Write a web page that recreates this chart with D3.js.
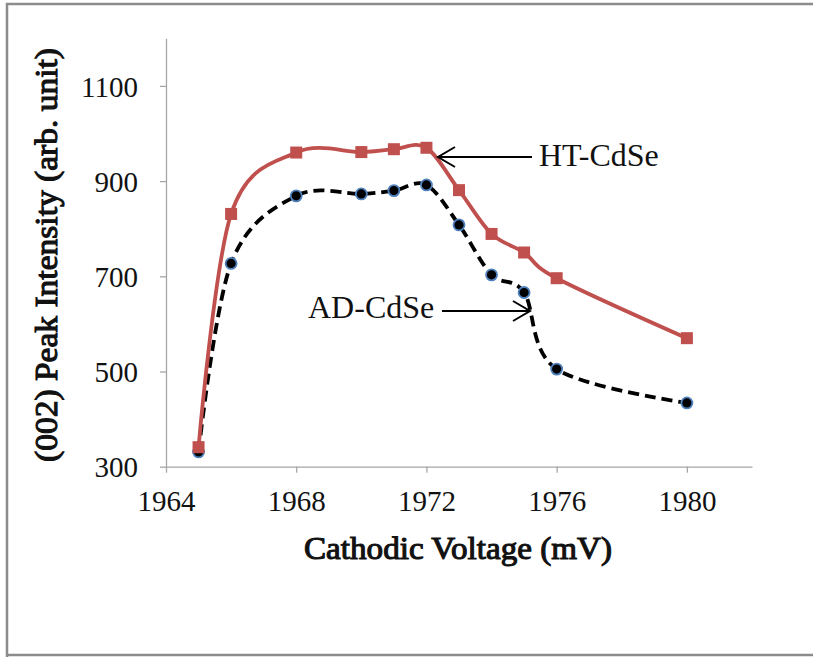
<!DOCTYPE html>
<html><head><meta charset="utf-8">
<script src="https://cdn.jsdelivr.net/npm/d3@7"></script>
<style>body{margin:0;background:#fff}svg{display:block}</style>
</head><body>
<svg id="c" width="813" height="657"></svg>
<script>
const voltages = [1965, 1966, 1968, 1970, 1971, 1972, 1973, 1974, 1975, 1976, 1980];
const htValues = [341, 831, 960, 961, 967, 970, 881, 789, 750, 696, 570];
const adValues = [331, 727, 869, 873, 880, 892, 808, 703, 666, 505, 434];
const xTicks = [1964, 1968, 1972, 1976, 1980];
const yTicks = [300, 500, 700, 900, 1100];

const svg = d3.select("#c");
const serif = '"Liberation Serif", "Times New Roman", Times, serif';
const ink = "#111";

// outer frame
svg.append("path").attr("d","M7,657 L7,4 L813,4 M7,655 L813,655")
  .attr("fill","none").attr("stroke","#8c8c8c").attr("stroke-width",2.5);

const x = d3.scaleLinear().domain([1964, 1982]).range([166, 752]);
const y = d3.scaleLinear().domain([300, 1200]).range([466.7, 38.3]);

const xAxis = svg.append("g").attr("transform","translate(0,466.7)")
  .call(d3.axisBottom(x).tickValues(xTicks).tickSize(6).tickFormat(d3.format("d")).tickSizeOuter(0));
const yAxis = svg.append("g").attr("transform","translate(166,0)")
  .call(d3.axisLeft(y).tickValues(yTicks).tickSize(6).tickFormat(d3.format("d")).tickSizeOuter(0));
[xAxis, yAxis].forEach(a=>{
  a.attr("font-family",null).attr("font-size",null);
  a.select(".domain").attr("stroke","#a6a6a6").attr("stroke-width",1.3);
  a.selectAll(".tick line").attr("stroke","#a6a6a6").attr("stroke-width",1.3);
  a.selectAll("text").style("font-family",serif).style("font-size","29px").attr("fill",ink);
});
xAxis.selectAll("text").attr("dy",null).attr("y",44);
yAxis.selectAll("text").attr("x",-28).attr("dy","0.35em");

// axis titles (faux bold via stroke)
function boldText(sel){
  return sel.style("font-family",serif).attr("fill",ink).attr("stroke",ink)
    .attr("stroke-width",1.1).attr("lengthAdjust","spacingAndGlyphs");
}
boldText(svg.append("text").attr("x",458).attr("y",559).attr("text-anchor","middle")
  .style("font-size","32px").attr("textLength",308)).text("Cathodic Voltage (mV)");
boldText(svg.append("text").attr("transform","translate(57,255) rotate(-90)").attr("text-anchor","middle")
  .style("font-size","32px").attr("textLength",414)).text("(002) Peak Intensity (arb. unit)");

const curve = d3.curveCardinal.tension(0);
const ht = voltages.map((v,i)=>({v, val: htValues[i]}));
const ad = voltages.map((v,i)=>({v, val: adValues[i]}));
const line = d3.line().x(d=>x(d.v)).y(d=>y(d.val)).curve(curve);

// AD series (dashed black with blue-outlined dots)
svg.append("path").datum(ad).attr("d",line).attr("fill","none")
  .attr("stroke","#000").attr("stroke-width",3.8).attr("stroke-dasharray","11,6");
svg.append("g").selectAll("circle").data(ad).join("circle")
  .attr("cx",d=>x(d.v)).attr("cy",d=>y(d.val)).attr("r",5.5)
  .attr("fill","#000").attr("stroke","#4f81bd").attr("stroke-width",1.8);

// HT series (red with squares)
svg.append("path").datum(ht).attr("d",line).attr("fill","none")
  .attr("stroke","#c0504d").attr("stroke-width",3.8);
svg.append("g").selectAll("rect").data(ht).join("rect")
  .attr("x",d=>x(d.v)-6).attr("y",d=>y(d.val)-6).attr("width",12).attr("height",12)
  .attr("fill","#c0504d");

// annotations
function arrow(x1, y1, x2, y2){ // head at (x2,y2)
  svg.append("line").attr("x1",x1).attr("y1",y1).attr("x2",x2).attr("y2",y2)
    .attr("stroke","#000").attr("stroke-width",2);
  const dir = Math.sign(x1-x2);
  svg.append("path").attr("d",`M${x2+dir*17},${y2-10} L${x2},${y2} L${x2+dir*17},${y2+10}`)
    .attr("fill","none").attr("stroke","#000").attr("stroke-width",2);
}
arrow(532, 157, 438, 157);
svg.append("text").attr("x",539).attr("y",166).style("font-family",serif).style("font-size","32px")
  .attr("fill",ink).text("HT-CdSe");
arrow(442, 311, 530, 311);
svg.append("text").attr("x",308).attr("y",318).style("font-family",serif).style("font-size","32px")
  .attr("fill",ink).text("AD-CdSe");
</script>
</body></html>
